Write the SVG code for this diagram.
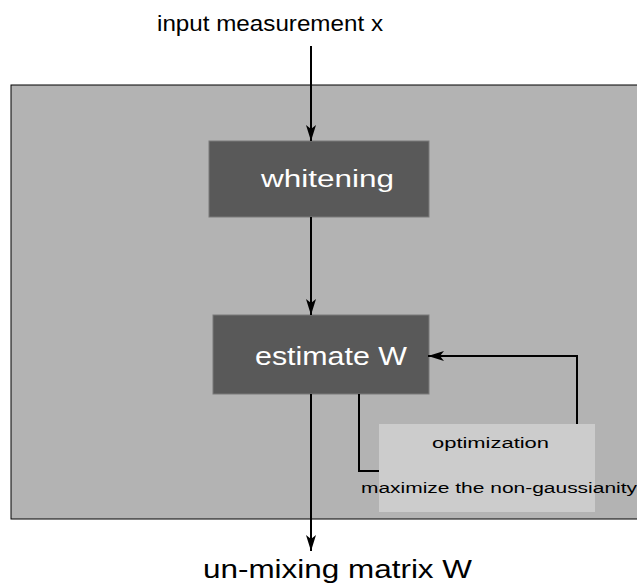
<svg xmlns="http://www.w3.org/2000/svg" width="637" height="586" viewBox="0 0 637 586">
<style>
.t{font-family:"Liberation Sans",Arial,sans-serif;}
.c{fill:none;stroke:#000;stroke-width:2;}
.box{fill:#595959;stroke:#7a7a7a;stroke-width:1;}
</style>
<defs>
<marker id="ah" viewBox="0 0 16 10" refX="16" refY="5" markerWidth="16" markerHeight="10" markerUnits="userSpaceOnUse" orient="auto">
<path d="M0,0 L16,5 L0,10 L4,5 Z" fill="#000"/>
</marker>
</defs>
<rect width="637" height="586" fill="#fff"/>
<g id="container">
<rect x="11" y="85" width="630" height="434" fill="#b3b3b3" stroke="#000" stroke-width="1"/>
</g>
<g id="input-label">
<text class="t" x="157" y="31" font-size="22" textLength="226" lengthAdjust="spacingAndGlyphs" fill="#000">input measurement x</text>
</g>
<g id="whitening">
<rect class="box" x="209" y="141" width="220" height="76"/>
<text class="t" x="261" y="187" font-size="23" textLength="133" lengthAdjust="spacingAndGlyphs" fill="#fff">whitening</text>
</g>
<g id="estimate">
<rect class="box" x="213" y="315" width="216" height="79"/>
<text class="t" x="255" y="365" font-size="25" textLength="152" lengthAdjust="spacingAndGlyphs" fill="#fff">estimate W</text>
</g>
<g id="optimization">
<rect x="379" y="424" width="216" height="88" fill="#cccccc"/>
<text class="t" x="432" y="448" font-size="14" textLength="117" lengthAdjust="spacingAndGlyphs" fill="#000">optimization</text>
<text class="t" x="361" y="493" font-size="14" textLength="276" lengthAdjust="spacingAndGlyphs" fill="#000">maximize the non-gaussianity</text>
</g>
<g id="output-label">
<text class="t" x="203" y="578" font-size="25" textLength="269" lengthAdjust="spacingAndGlyphs" fill="#000">un-mixing matrix W</text>
</g>
<g id="connectors">
<line class="c" x1="311" y1="46" x2="311" y2="141" marker-end="url(#ah)"/>
<line class="c" x1="311" y1="217" x2="311" y2="315" marker-end="url(#ah)"/>
<line class="c" x1="311" y1="394" x2="311" y2="551" marker-end="url(#ah)"/>
<polyline class="c" points="359,394 359,471 379,471"/>
<polyline class="c" points="577,424 577,356 428,356" marker-end="url(#ah)"/>
</g>
</svg>
